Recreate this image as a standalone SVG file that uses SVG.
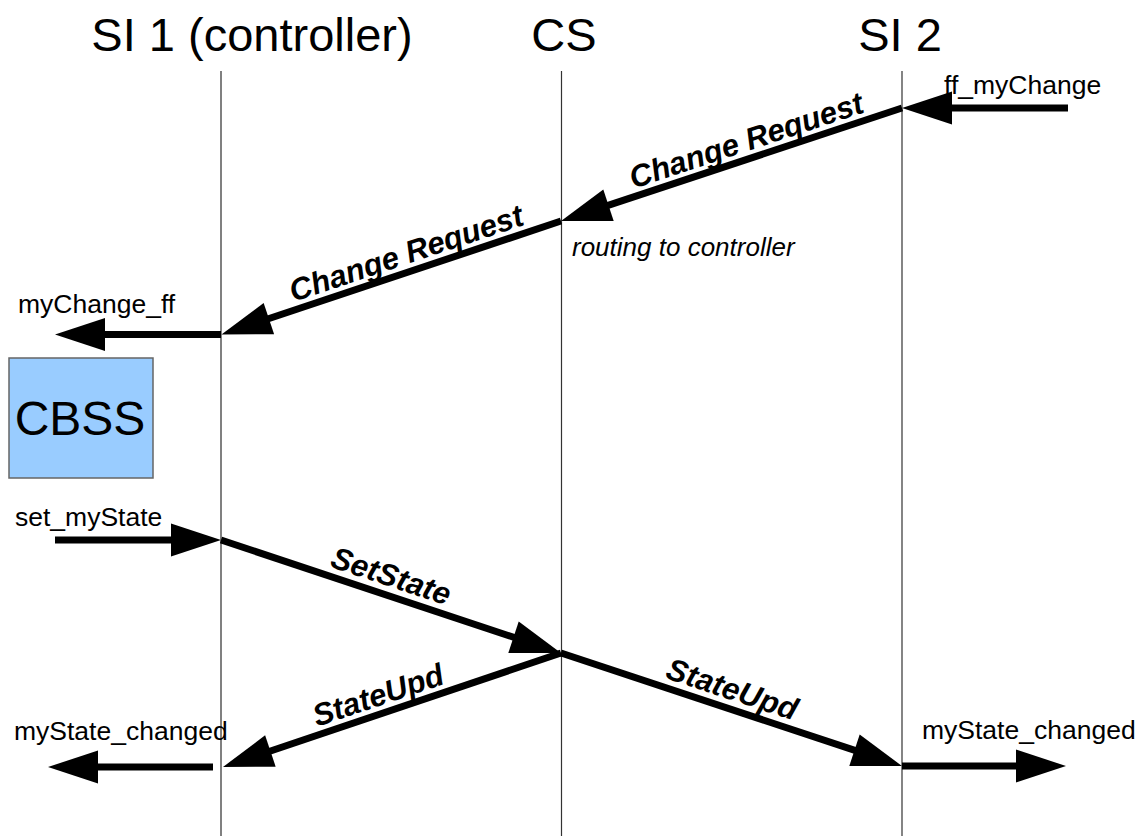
<svg xmlns="http://www.w3.org/2000/svg" width="1144" height="836" viewBox="0 0 1144 836">
<style>
text { font-family: "Liberation Sans", Arial, sans-serif; fill: #000; }
.title { font-size: 47px; text-anchor: middle; }
.sig { font-size: 26.5px; }
.msg { font-size: 31px; font-weight: bold; font-style: italic; text-anchor: middle; }
.note { font-size: 26px; font-style: italic; }
.arrow { stroke: #000; stroke-width: 7; fill: none; marker-end: url(#head); }
.life1 { stroke: #808080; stroke-width: 2; }
.life { stroke: #333; stroke-width: 1.2; }
</style>
<defs>
<marker id="head" markerUnits="userSpaceOnUse" viewBox="-10 -17 50 34" refX="0" refY="0" markerWidth="50" markerHeight="34" orient="auto" overflow="visible">
<path d="M40,0 L-10,-16.5 L-10,16.5 Z" fill="#000"/>
</marker>
</defs>
<rect width="1144" height="836" fill="#fff"/>

<g id="lifeline-si1">
<text class="title" x="252" y="51">SI 1 (controller)</text>
<line class="life1" x1="221" y1="71" x2="221" y2="836"/>
</g>
<g id="lifeline-cs">
<text class="title" x="564" y="51">CS</text>
<line class="life" x1="561.5" y1="71" x2="561.5" y2="836"/>
</g>
<g id="lifeline-si2">
<text class="title" x="900" y="51">SI 2</text>
<line class="life" x1="902" y1="71" x2="902" y2="836"/>
</g>

<g id="cbss">
<rect x="9" y="358" width="144" height="120" fill="#99ccff" stroke="#666" stroke-width="1.5"/>
<text x="80" y="435" font-size="48" text-anchor="middle">CBSS</text>
</g>

<g id="connectors">
<path class="arrow" d="M1068,108 L942,108"/>
<path class="arrow" d="M902,108 L599,208.4"/>
<path class="arrow" d="M561,221 L259.4,321.8"/>
<path class="arrow" d="M221,334.5 L95,334.5"/>
<path class="arrow" d="M55,540 L181,540"/>
<path class="arrow" d="M221,540 L523,640.4"/>
<path class="arrow" d="M561,653 L260.9,754.2"/>
<path class="arrow" d="M561,653 L864,753.4"/>
<path class="arrow" d="M213,767 L88,767"/>
<path class="arrow" d="M902,766 L1026,766"/>
</g>

<g id="labels">
<text class="sig" x="944" y="94">ff_myChange</text>
<text class="sig" x="18" y="313">myChange_ff</text>
<text class="sig" x="15" y="526">set_myState</text>
<text class="sig" x="14" y="740">myState_changed</text>
<text class="sig" x="922" y="739">myState_changed</text>
<text class="note" x="572" y="256">routing to controller</text>
<text class="msg" transform="translate(752,158) rotate(-18.33)" x="0" y="-8">Change Request</text>
<text class="msg" transform="translate(412,270.8) rotate(-18.48)" x="0" y="-8">Change Request</text>
<text class="msg" transform="translate(385,594.5) rotate(18.38)" x="0" y="-9">SetState</text>
<text class="msg" transform="translate(384,712.7) rotate(-18.64)" x="0" y="-8">StateUpd</text>
<text class="msg" transform="translate(726,707.7) rotate(18.33)" x="0" y="-9">StateUpd</text>
</g>
</svg>
